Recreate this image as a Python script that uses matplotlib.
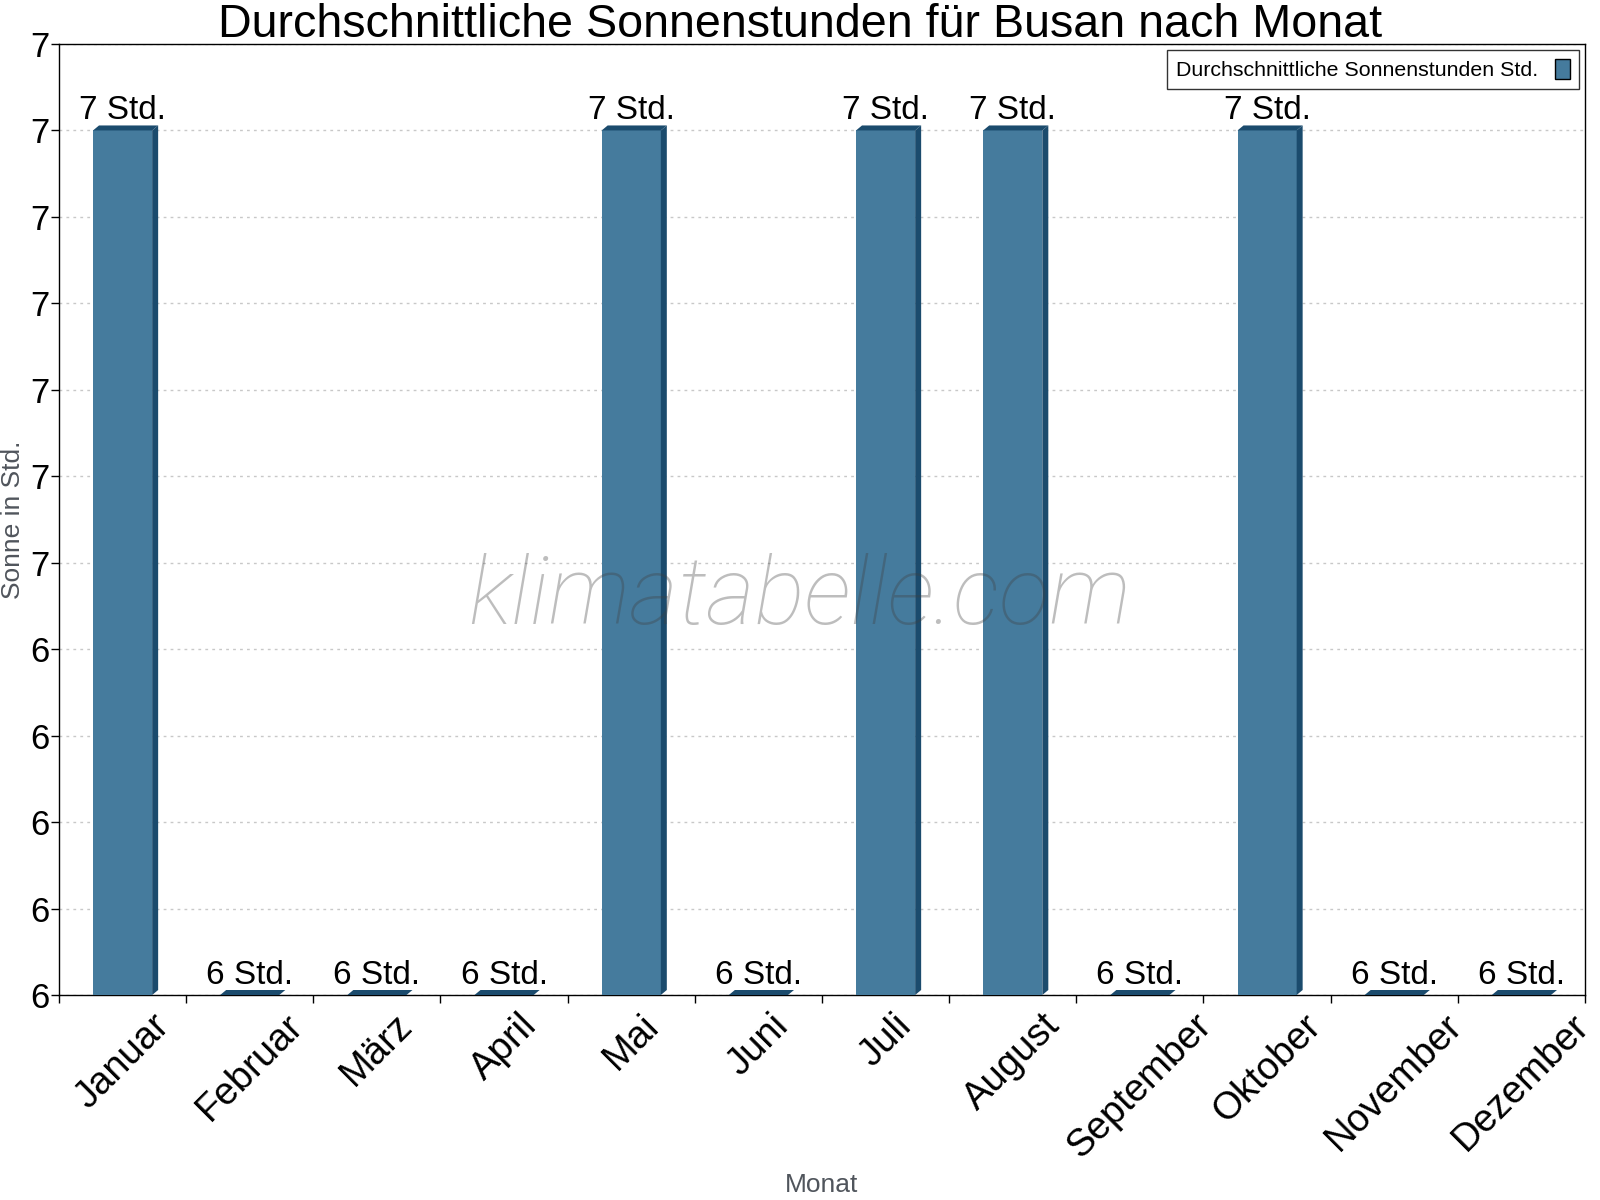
import numpy as np
import matplotlib
matplotlib.use("Agg")
import matplotlib.pyplot as plt
from matplotlib.patches import Polygon

plt.rcParams['font.family'] = ['Liberation Sans', 'DejaVu Sans']

# Daten
monate = ["Januar", "Februar", "März", "April", "Mai", "Juni",
          "Juli", "August", "September", "Oktober", "November", "Dezember"]
sonne = [7, 6, 6, 6, 7, 6, 7, 7, 6, 7, 6, 6]
y_ticks = [6.0, 6.1, 6.2, 6.3, 6.4, 6.5, 6.6, 6.7, 6.8, 6.9, 7.0, 7.1]
y_tick_labels = ["6", "6", "6", "6", "6", "7", "7", "7", "7", "7", "7", "7"]

titel = "Durchschnittliche Sonnenstunden für Busan nach Monat"
legende = "Durchschnittliche Sonnenstunden Std."

front = "#457b9d"
dunkel = "#1b4b6d"

W, H = 1600, 1200
fig = plt.figure(figsize=(16, 12), dpi=100)
ax_l, ax_r, ax_b, ax_t = 59, 1585, 995, 44
ax = fig.add_axes([ax_l / W, 1 - ax_b / H, (ax_r - ax_l) / W, (ax_b - ax_t) / H])

ymin, ymax = 6.0, 7.1
ax.set_xlim(-0.5, len(monate) - 0.5)
ax.set_ylim(ymin, ymax)

# Pixel -> Daten fuer den 3D-Effekt
px_x = (ax_r - ax_l) / len(monate)
px_y = (ax_b - ax_t) / (ymax - ymin)
dx = 6 / px_x
dy = 5 / px_y
breite = 0.465

x = np.arange(len(monate))
bars = ax.bar(x, np.array(sonne) - ymin, bottom=ymin, width=breite,
              color=front, edgecolor="none", zorder=3, label=legende)

for xi, v in zip(x, sonne):
    x0, x1 = xi - breite / 2, xi + breite / 2
    top = [(x0, v), (x0 + dx, v + dy), (x1 + dx, v + dy), (x1, v)]
    side = [(x1, ymin), (x1 + dx, ymin + dy), (x1 + dx, v + dy), (x1, v)]
    if v > ymin:
        ax.add_patch(Polygon(side, closed=True, facecolor=dunkel, edgecolor="none", zorder=3))
    ax.add_patch(Polygon(top, closed=True, facecolor=dunkel, edgecolor="none", zorder=3))
    ax.annotate(f"{v} Std.", (xi, v), xytext=(0, 8), textcoords="offset points",
                ha="center", va="baseline", fontsize=24, color="black", zorder=5)

# Achsen
ax.set_yticks(y_ticks)
ax.set_yticklabels(y_tick_labels)
ax.tick_params(axis="y", labelsize=25, length=6, width=1, pad=1, direction="out")
ax.set_xticks(np.arange(-0.5, len(monate), 1.0))
ax.set_xticklabels([])
ax.set_xticks(x, minor=True)
ax.set_xticklabels(monate, minor=True, rotation=45, ha="center", fontsize=27.5)
ax.tick_params(axis="x", which="major", length=6, width=1, direction="out")
ax.tick_params(axis="x", which="minor", length=0, pad=9)

ax.grid(axis="y", color="#c8c8c8", linestyle=(0, (2, 3)), linewidth=1, zorder=0)
ax.set_axisbelow(True)
for s in ax.spines.values():
    s.set_linewidth(1)
    s.set_color("black")

fig.text(13 / W, 1 - 520 / H, "Sonne in Std.", rotation=90, ha="center", va="center",
         fontsize=19, color="#50555c")
fig.text(822 / W, 1 - 1185 / H, "Monat", ha="center", va="center",
         fontsize=19, color="#50555c")

fig.text(0.5, 1 - 37 / H, titel, ha="center", va="baseline", fontsize=33.6, color="black")

# Wasserzeichen
fig.text(800 / W, 1 - 624 / H, "klimatabelle.com", ha="center", va="baseline",
         fontsize=67.5, family="Roboto", fontweight="light", style="italic",
         color="#404040", alpha=0.34, zorder=10)

leg = ax.legend(handles=[bars], labels=[legende], loc="upper right", fontsize=15.4,
                markerfirst=False, frameon=True, fancybox=False, shadow=False,
                borderaxespad=0.3, handlelength=0.7, handleheight=1.05,
                handletextpad=0.8, borderpad=0.4)
leg.get_frame().set_edgecolor("black")
leg.get_frame().set_linewidth(1)
for p in leg.get_patches():
    p.set_edgecolor("black")
    p.set_linewidth(1)

fig.savefig("out.png", dpi=100)
